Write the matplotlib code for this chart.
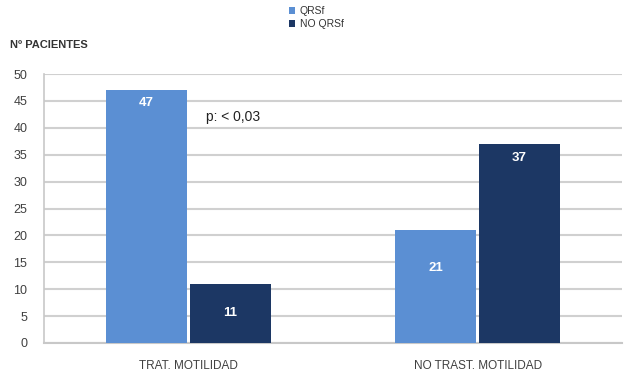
import matplotlib
matplotlib.use("Agg")
import matplotlib.pyplot as plt
import numpy as np

plt.rcParams['font.family'] = ['Liberation Sans Narrow', 'Liberation Sans', 'DejaVu Sans']

categories = ["TRAT. MOTILIDAD", "NO TRAST. MOTILIDAD"]
series_names = ["QRSf", "NO QRSf"]
qrsf = [47, 21]
no_qrsf = [11, 37]
y_ticks = [0, 5, 10, 15, 20, 25, 30, 35, 40, 45, 50]
p_text = "p: < 0,03"

light = "#5b8fd3"
dark = "#1c3764"

fig = plt.figure(figsize=(6.26, 3.78), dpi=100)
ax = fig.add_axes([0.0703, 0.0926, 0.9237, 0.7114])

x = np.arange(len(categories))
w = 0.28
b1 = ax.bar(x - w / 2 - 0.005, qrsf, w, color=light, label=series_names[0], zorder=3)
b2 = ax.bar(x + w / 2 + 0.005, no_qrsf, w, color=dark, label=series_names[1], zorder=3)

ax.set_xlim(-0.5, 1.5)
ax.set_ylim(0, 50)
ax.set_yticks(y_ticks)
ax.set_xticks(x)
ax.set_xticklabels(categories, fontsize=8.5, color="#404040")
ax.tick_params(axis='y', labelsize=9, colors="#404040", length=0, pad=12)
ax.tick_params(axis='x', length=0, pad=12)
ax.yaxis.grid(True, color="#d0d0d0", linewidth=1.5, zorder=0)
for s in ["top", "right"]:
    ax.spines[s].set_visible(False)
ax.spines["bottom"].set_color("#c8c8c8")
ax.spines["bottom"].set_linewidth(1.5)
ax.spines["left"].set_color("#c8c8c8")
ax.spines["left"].set_linewidth(1.2)

# value labels inside the bars
offsets_light = [-13, -38]
offsets_dark = [-29, -14]
for rect, v, off in zip(b1, qrsf, offsets_light):
    ax.annotate(str(v), (rect.get_x() + rect.get_width() / 2, v), xytext=(0, off),
                textcoords="offset pixels", ha="center", va="center",
                color="white", fontsize=9.5, fontweight="bold", zorder=4)
for rect, v, off in zip(b2, no_qrsf, offsets_dark):
    ax.annotate(str(v), (rect.get_x() + rect.get_width() / 2, v), xytext=(0, off),
                textcoords="offset pixels", ha="center", va="center",
                color="white", fontsize=9.5, fontweight="bold", zorder=4)

ax.text(0.06, 42.0, p_text, fontsize=10, color="#222222", va="center", ha="left",
        bbox=dict(facecolor="white", edgecolor="none", pad=1), zorder=4)

fig.text(0.016, 0.88, "Nº PACIENTES", fontsize=8, fontweight="bold", color="#333333",
         va="center", ha="left")

leg = fig.legend(handles=[b1, b2], labels=series_names, loc="upper left",
                 bbox_to_anchor=(0.452, 1.0), frameon=False, fontsize=7.5,
                 handlelength=0.6, handleheight=0.6, handletextpad=0.4,
                 labelspacing=0.3, borderaxespad=0.2)
for t in leg.get_texts():
    t.set_color("#333333")

fig.savefig("out.png", dpi=100)
